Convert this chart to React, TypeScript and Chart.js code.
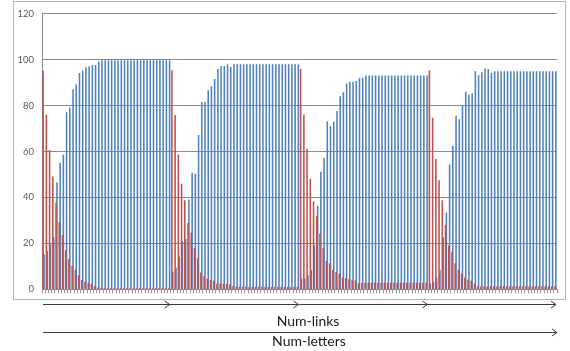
import React, { useEffect, useRef } from "react";
import { Chart, registerables } from "chart.js";

Chart.register(...registerables);

// Blue series (rising) per group of 40 categories
const blueGroup1 = [
  15, 16.5, 19.5, 22.5, 46.5, 55, 58.5, 77, 79, 87,
  89, 94, 95, 96.5, 97, 97.5, 97.5, 99, 99.6, 99.6,
  99.6, 99.6, 99.6, 99.6, 99.6, 99.6, 99.6, 99.6, 99.6, 99.6,
  99.6, 99.6, 99.6, 99.6, 99.6, 99.6, 99.6, 99.6, 99.6, 99.6,
];
const blueGroup2 = [
  7.6, 9.4, 14.1, 20.6, 21.8, 39, 50.6, 50.3, 67, 81.4,
  81.4, 86.5, 88.3, 91.4, 95.8, 97.1, 97.1, 97.8, 96.7, 97.8,
  97.8, 97.8, 97.8, 97.8, 97.8, 97.8, 97.8, 97.8, 97.8, 97.8,
  97.8, 97.8, 97.8, 97.8, 97.8, 97.8, 97.8, 97.8, 97.8, 97.8,
];
const blueGroup3 = [
  4.6, 4.6, 6, 8.4, 18.9, 36.2, 51, 57, 73, 71,
  72.8, 77.5, 83.9, 85.7, 89.5, 90.2, 90.2, 90.5, 92, 92,
  93, 93, 93, 93, 93, 93, 93, 93, 93, 93,
  93, 93, 93, 93, 93, 93, 93, 93, 93, 93,
];
const blueGroup4 = [
  2.3, 2.9, 5, 8.4, 22.5, 33.3, 54.2, 62.4, 75.4, 73.9,
  80, 85.9, 84.7, 85.2, 94.8, 93.1, 94.4, 96, 95.8, 94.1,
  94.8, 94.8, 94.8, 94.8, 94.8, 94.8, 94.8, 94.8, 94.8, 94.8,
  94.8, 94.8, 94.8, 94.8, 94.8, 94.8, 94.8, 94.8, 94.8, 94.8,
];

// Red series (falling) per group
const redGroup1 = [
  95, 76, 60.5, 49, 37.5, 29, 23.5, 17, 13, 10,
  8.4, 6, 4, 3.2, 2.5, 2.2, 1.2, 0.6, 0.4, 0.3,
  0.3, 0.3, 0.3, 0.3, 0.3, 0.3, 0.3, 0.3, 0.3, 0.3,
  0.3, 0.3, 0.3, 0.3, 0.3, 0.3, 0.3, 0.3, 0.3, 0.3,
];
const redGroup2 = [
  95.2, 75.8, 58.6, 45.8, 38.6, 28.7, 24.6, 17.7, 13.4, 7.2,
  5.8, 4.6, 4, 3.6, 2.3, 2.3, 2.3, 2.2, 1.9, 1.3,
  1, 1, 1, 1, 1, 1, 1, 1, 1, 1,
  1, 1, 1, 1, 1, 1, 1, 1, 1, 1,
];
const redGroup3 = [
  95.8, 76, 61, 48, 38.2, 31.7, 24.2, 17.7, 12.2, 11.2,
  8.4, 7.3, 6.6, 5, 4.8, 4.3, 4, 3.7, 2.6, 2.6,
  2.7, 2.7, 2.7, 2.7, 2.7, 2.7, 2.7, 2.7, 2.7, 2.7,
  2.7, 2.7, 2.7, 2.7, 2.7, 2.7, 2.7, 2.7, 2.7, 2.7,
];
const redGroup4 = [
  95.2, 74.6, 56.6, 47.3, 38.6, 27.8, 18.9, 16, 11.2, 8.4,
  6.6, 5, 4, 3.6, 2.3, 1.2, 1.2, 1.2, 1.2, 1.2,
  1.2, 1.2, 1.2, 1.2, 1.2, 1.2, 1.2, 1.2, 1.2, 1.2,
  1.2, 1.2, 1.2, 1.2, 1.2, 1.2, 1.2, 1.2, 1.2, 1.2,
];

const groupNames = ["G1", "G2", "G3", "G4"];
const yTickValues = [0, 20, 40, 60, 80, 100, 120];
const linksLabel = "Num-links";
const lettersLabel = "Num-letters";

const blueValues = [...blueGroup1, ...blueGroup2, ...blueGroup3, ...blueGroup4];
const redValues = [...redGroup1, ...redGroup2, ...redGroup3, ...redGroup4];
const categories = [blueGroup1, blueGroup2, blueGroup3, blueGroup4].flatMap((g, gi) =>
  g.map((_, i) => `${groupNames[gi]}-${i + 1}`)
);

const decorPlugin = {
  id: "decor",
  beforeDraw(chart: any) {
    const ctx = chart.ctx;
    ctx.save();
    ctx.fillStyle = "#ffffff";
    ctx.fillRect(0, 0, chart.width, chart.height);
    ctx.strokeStyle = "#b4b4b4";
    ctx.lineWidth = 1;
    ctx.strokeRect(13.5, 1.5, 552, 298);
    ctx.restore();
  },
  afterDraw(chart: any) {
    const { ctx, chartArea } = chart;
    const left = chartArea.left;
    const right = chartArea.right;
    const groupW = (right - left) / 4;
    ctx.save();
    ctx.strokeStyle = "#3a3a3a";
    ctx.lineWidth = 1;
    const chevron = (x: number, y: number) => {
      ctx.beginPath();
      ctx.moveTo(x - 5, y - 3.5);
      ctx.lineTo(x, y);
      ctx.lineTo(x - 5, y + 3.5);
      ctx.stroke();
    };
    const y1 = 304.5;
    ctx.beginPath();
    ctx.moveTo(left + 1, y1);
    ctx.lineTo(right - 1, y1);
    ctx.stroke();
    for (let g = 1; g <= 4; g++) {
      chevron(left + g * groupW - 1, y1);
    }
    const y2 = 332.5;
    ctx.beginPath();
    ctx.moveTo(left + 1, y2);
    ctx.lineTo(right, y2);
    ctx.stroke();
    chevron(right, y2);

    ctx.fillStyle = "#1a1a1a";
    ctx.font = "14px Lato, 'Open Sans', sans-serif";
    ctx.textAlign = "center";
    ctx.textBaseline = "middle";
    ctx.fillText(linksLabel, 308, 321);
    ctx.fillText(lettersLabel, 309, 341);
    ctx.restore();
  },
};

export default function App() {
  const canvasRef = useRef<HTMLCanvasElement | null>(null);

  useEffect(() => {
    if (!canvasRef.current) return;
    const chart = new Chart(canvasRef.current, {
      type: "bar",
      data: {
        labels: categories,
        datasets: [
          {
            label: "Blue",
            data: blueValues,
            backgroundColor: "#4F81BD",
            barThickness: 0.9,
            order: 1,
          },
          {
            label: "Red",
            data: redValues,
            backgroundColor: "#C0504D",
            barThickness: 0.9,
            order: 0,
          },
        ],
      },
      options: {
        responsive: false,
        animation: false,
        events: [],
        layout: { padding: { left: 0, top: 11.7, right: 13, bottom: 0 } },
        plugins: {
          legend: { display: false },
          tooltip: { enabled: false },
          title: { display: false },
        },
        scales: {
          x: {
            grid: {
              display: true,
              drawOnChartArea: false,
              drawTicks: true,
              tickLength: 4,
              color: "#9a9a9a",
              offset: true,
            },
            border: { display: true, color: "#8c8c8c" },
            ticks: { display: false },
            afterFit: (scale: any) => {
              scale.height = 61.7;
            },
          },
          y: {
            min: 0,
            max: 120,
            afterBuildTicks: (scale: any) => {
              scale.ticks = yTickValues.map((v) => ({ value: v }));
            },
            grid: { color: "#8c8c8c", drawTicks: false },
            border: { display: true, color: "#8c8c8c" },
            ticks: {
              padding: 8,
              color: "#595959",
              font: { family: "Lato, 'Open Sans', sans-serif", size: 9.5 },
            },
            afterFit: (scale: any) => {
              scale.width = 42;
            },
          },
        },
      },
      plugins: [decorPlugin],
    });
    return () => chart.destroy();
  }, []);

  return (
    <div style={{ position: "absolute", left: 0, top: 0, width: 570, height: 351 }}>
      <canvas ref={canvasRef} width={570} height={351} />
    </div>
  );
}
